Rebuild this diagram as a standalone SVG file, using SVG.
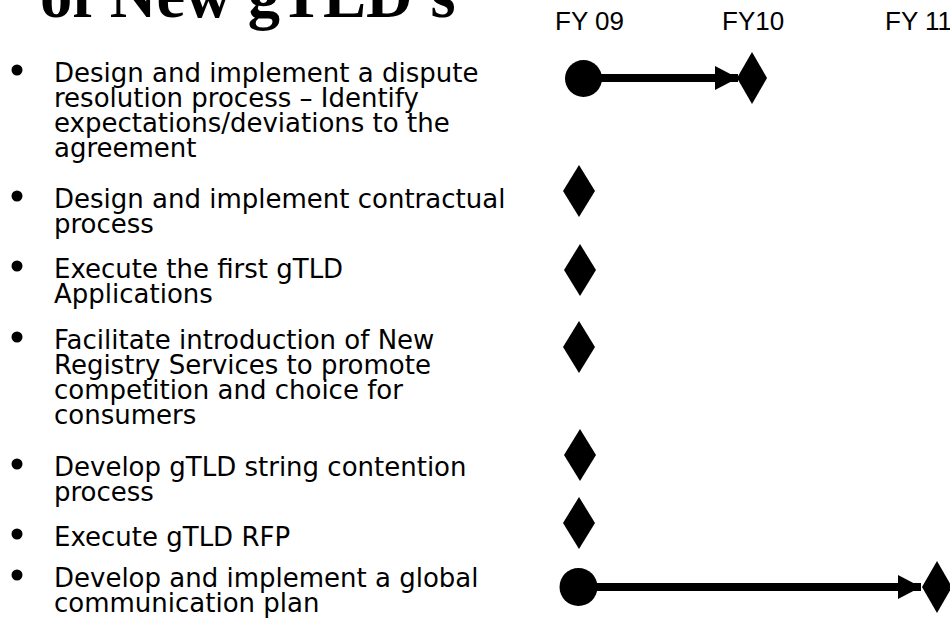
<svg xmlns="http://www.w3.org/2000/svg" width="950" height="622" viewBox="0 0 950 622">
<style>
.title{font-family:"Liberation Serif","Times New Roman",serif;font-weight:bold;font-size:64.5px;fill:#000}
.fy{font-family:"Liberation Sans",Arial,sans-serif;font-size:26px;fill:#000}
.body{font-family:"DejaVu Sans",Verdana,sans-serif;font-size:26px;fill:#000}
.dot{fill:#000}
.ms{fill:#000}
.conn{stroke:#000;stroke-width:8;fill:none}
</style>
<defs>
<marker id="arr" markerUnits="userSpaceOnUse" markerWidth="24" markerHeight="24" refX="23" refY="12" orient="auto">
<polygon points="0,0 23,12 0,24" fill="#000"/>
</marker>
</defs>
<text class="title" x="40" y="17">of New gTLD's</text>
<g id="headers">
<text class="fy" x="555" y="30">FY 09</text>
<text class="fy" x="722" y="30">FY10</text>
<text class="fy" x="885" y="30">FY 11</text>
</g>
<g id="item1">
<circle class="dot" cx="17" cy="70" r="5.5"/>
<text class="body"><tspan x="54" y="82">Design and implement a dispute</tspan><tspan x="54" y="107">resolution process – Identify</tspan><tspan x="54" y="132">expectations/deviations to the</tspan><tspan x="54" y="157">agreement</tspan></text>
</g>
<g id="item2">
<circle class="dot" cx="17" cy="196" r="5.5"/>
<text class="body"><tspan x="54" y="208">Design and implement contractual</tspan><tspan x="54" y="233">process</tspan></text>
</g>
<g id="item3">
<circle class="dot" cx="17" cy="266" r="5.5"/>
<text class="body"><tspan x="54" y="278">Execute the first gTLD</tspan><tspan x="54" y="303">Applications</tspan></text>
</g>
<g id="item4">
<circle class="dot" cx="17" cy="337" r="5.5"/>
<text class="body"><tspan x="54" y="349">Facilitate introduction of New</tspan><tspan x="54" y="374">Registry Services to promote</tspan><tspan x="54" y="399">competition and choice for</tspan><tspan x="54" y="424">consumers</tspan></text>
</g>
<g id="item5">
<circle class="dot" cx="17" cy="464" r="5.5"/>
<text class="body"><tspan x="54" y="476">Develop gTLD string contention</tspan><tspan x="54" y="501">process</tspan></text>
</g>
<g id="item6">
<circle class="dot" cx="17" cy="534" r="5.5"/>
<text class="body"><tspan x="54" y="546">Execute gTLD RFP</tspan></text>
</g>
<g id="item7">
<circle class="dot" cx="17" cy="575" r="5.5"/>
<text class="body"><tspan x="54" y="587">Develop and implement a global</tspan><tspan x="54" y="612">communication plan</tspan></text>
</g>
<g id="connectors">
<line class="conn" x1="583" y1="78" x2="738" y2="78" marker-end="url(#arr)"/>
<line class="conn" x1="578" y1="587" x2="921" y2="587" marker-end="url(#arr)"/>
</g>
<g id="milestones">
<circle id="start1" class="ms" cx="583.5" cy="78.5" r="18.5"/>
<polygon id="m1" class="ms" points="752,52 767,78 752,104 737,78"/>
<polygon id="m2" class="ms" points="579,165 595,191 579,217 563,191"/>
<polygon id="m3" class="ms" points="580,244 596,270 580,296 564,270"/>
<polygon id="m4" class="ms" points="579,321 595,347 579,373 563,347"/>
<polygon id="m5" class="ms" points="580,429 596,455 580,481 564,455"/>
<polygon id="m6" class="ms" points="579,497 595,523 579,549 563,523"/>
<circle id="start7" class="ms" cx="578.5" cy="587" r="19"/>
<polygon id="m7" class="ms" points="937,561 952,587 937,613 922,587"/>
</g>
</svg>
